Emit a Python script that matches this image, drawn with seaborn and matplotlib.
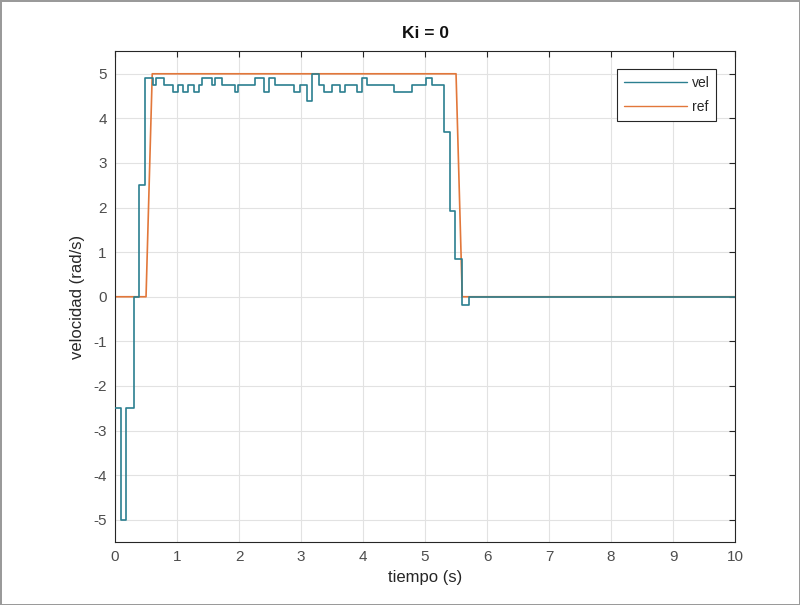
"""
    Velocity step response, Ki = 0.
"""

import pandas as pd
import matplotlib
matplotlib.use("Agg")
import matplotlib.pyplot as plt
import seaborn as sns

# Measured velocity (value is held from each time until the next one)
t_vel = [0.0, 0.09, 0.18, 0.30, 0.39, 0.49, 0.61, 0.66, 0.79, 0.94,
         1.02, 1.10, 1.18, 1.27, 1.35, 1.40, 1.56, 1.62, 1.72, 1.94,
         1.99, 2.26, 2.40, 2.48, 2.58, 2.88, 2.99, 3.09, 3.17, 3.29,
         3.37, 3.50, 3.63, 3.71, 3.90, 3.98, 4.07, 4.50, 4.79, 5.01,
         5.12, 5.31, 5.41, 5.49, 5.60, 5.71, 10.0]
v_vel = [-2.5, -5.0, -2.5, 0.0, 2.5, 4.9, 4.75, 4.9, 4.75, 4.6,
         4.75, 4.6, 4.75, 4.6, 4.75, 4.9, 4.75, 4.9, 4.75, 4.6,
         4.75, 4.9, 4.6, 4.9, 4.75, 4.6, 4.75, 4.4, 5.0, 4.75,
         4.6, 4.75, 4.6, 4.75, 4.6, 4.9, 4.75, 4.6, 4.75, 4.9,
         4.75, 3.7, 1.93, 0.85, -0.19, 0.0, 0.0]

# Reference signal
t_ref = [0.0, 0.5, 0.6, 5.5, 5.6, 10.0]
v_ref = [0.0, 0.0, 5.0, 5.0, 0.0, 0.0]

xticks = list(range(0, 11))
yticks = list(range(-5, 6))

df_vel = pd.DataFrame({'t': t_vel, 'vel': v_vel})
df_ref = pd.DataFrame({'t': t_ref, 'ref': v_ref})

sns.set_style('whitegrid')
plt.rcParams['font.family'] = ['Liberation Sans', 'DejaVu Sans']
plt.rcParams['axes.unicode_minus'] = False

fig = plt.figure(figsize=(8, 6.05), dpi=100)
fig.patch.set_edgecolor('#9a9a9a')
fig.patch.set_linewidth(2)
ax = fig.add_axes([0.1438, 0.1041, 0.775, 0.8108])

sns.lineplot(data=df_vel, x='t', y='vel', drawstyle='steps-post', color='#2b7f90',
             linewidth=1.2, label='vel', ax=ax, zorder=3)
sns.lineplot(data=df_ref, x='t', y='ref', color='#e2773a', linewidth=1.2,
             label='ref', ax=ax, zorder=2)

ax.set_xlim(0, 10)
ax.set_ylim(-5.5, 5.5)
ax.set_xticks(xticks)
ax.set_yticks(yticks)
ax.grid(True, color='#e2e2e2', linewidth=0.8)
ax.tick_params(direction='in', top=True, right=True, length=4, width=0.8,
               colors='#262626', labelcolor='#4d4d4d', labelsize=11, pad=6)
for s in ax.spines.values():
    s.set_visible(True)
    s.set_color('#262626')
    s.set_linewidth(0.8)

ax.set_xlabel('tiempo (s)', fontsize=12, color='#262626', labelpad=4)
ax.set_ylabel('velocidad (rad/s)', fontsize=12, color='#262626', labelpad=6)
ax.set_title('Ki = 0', fontsize=12.5, fontweight='bold', color='#111111', pad=10)

leg = ax.legend(loc='upper right', bbox_to_anchor=(0.97, 0.964), borderaxespad=0,
                fontsize=10, frameon=True, fancybox=False, handlelength=4.6,
                handletextpad=0.3, borderpad=0.5, labelspacing=0.7)
leg.get_frame().set_edgecolor('#262626')
leg.get_frame().set_linewidth(0.8)
leg.get_frame().set_alpha(1)
for line in leg.get_lines():
    line.set_linewidth(1.0)

fig.savefig('out.png', dpi=100)
